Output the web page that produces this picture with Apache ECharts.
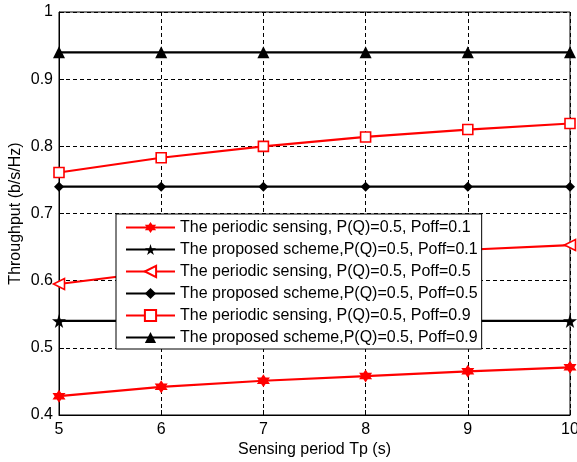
<!DOCTYPE html>
<html>
<head>
<meta charset="utf-8">
<script src="https://cdn.jsdelivr.net/npm/echarts@6/dist/echarts.min.js"></script>
<style>
  html, body { margin: 0; padding: 0; background: #fff; }
  #chart { width: 577px; height: 462px; }
</style>
</head>
<body>
<div id="chart"></div>
<script>
// 横轴：感知周期 Tp
const periods = [5, 6, 7, 8, 9, 10];

// 各曲线数值
const periodicPoff01 = [0.428, 0.442, 0.451, 0.458, 0.465, 0.471];
const proposedPoff01 = [0.54, 0.54, 0.54, 0.54, 0.54, 0.54];
const periodicPoff05 = [0.595, 0.614, 0.627, 0.637, 0.646, 0.653];
const proposedPoff05 = [0.74, 0.74, 0.74, 0.74, 0.74, 0.74];
const periodicPoff09 = [0.761, 0.783, 0.800, 0.814, 0.825, 0.834];
const proposedPoff09 = [0.94, 0.94, 0.94, 0.94, 0.94, 0.94];

const seriesNames = [
  'The periodic sensing, P(Q)=0.5, Poff=0.1',
  'The proposed scheme,P(Q)=0.5, Poff=0.1',
  'The periodic sensing, P(Q)=0.5, Poff=0.5',
  'The proposed scheme,P(Q)=0.5, Poff=0.5',
  'The periodic sensing, P(Q)=0.5, Poff=0.9',
  'The proposed scheme,P(Q)=0.5, Poff=0.9'
];

const FONT = 'Liberation Sans, Arial, sans-serif';

// 标记形状
const star5 = 'path://M50,0 L61,35 L98,35 L68,57 L79,91 L50,70 L21,91 L32,57 L2,35 L39,35 Z';
const star6 = 'path://M50,0 L64.4,25 L93.3,25 L78.9,50 L93.3,75 L64.4,75 L50,100 L35.6,75 L6.7,75 L21.1,50 L6.7,25 L35.6,25 Z';

const pair = arr => arr.map((v, i) => [periods[i], v]);

const mkSeries = (name, data, color, symbol, size, fill, rotate) => ({
  name,
  type: 'line',
  data: pair(data),
  symbol,
  symbolSize: size,
  symbolRotate: rotate || 0,
  showAllSymbol: true,
  lineStyle: { color, width: 2.2 },
  itemStyle: { color: fill, borderColor: color, borderWidth: fill === '#fff' ? 1.6 : 0 },
  emphasis: { disabled: true },
  z: 2
});

const chart = echarts.init(document.getElementById('chart'));

chart.setOption({
  animation: false,
  backgroundColor: '#fff',
  grid: {
    left: 59, right: 7, top: 12, bottom: 47,
    outerBoundsMode: 'none',
    containLabel: false,
    show: true, borderColor: '#000', borderWidth: 1, backgroundColor: 'transparent'
  },
  legend: {
    orient: 'vertical',
    left: 116,
    top: 214,
    padding: [5, 4, 3, 9],
    itemWidth: 49,
    itemHeight: 14,
    itemGap: 5,
    backgroundColor: '#fff',
    borderColor: '#000',
    borderWidth: 1,
    data: seriesNames,
    textStyle: { fontFamily: FONT, fontSize: 16, lineHeight: 17, color: '#000' },
    selectedMode: false
  },
  xAxis: {
    type: 'value',
    min: 5, max: 10, interval: 1,
    name: 'Sensing period Tp (s)',
    nameLocation: 'middle',
    nameGap: 27,
    nameMoveOverlap: false,
    nameTextStyle: { fontFamily: FONT, fontSize: 16, color: '#000' },
    axisLine: { lineStyle: { color: '#000', width: 1 } },
    axisTick: { inside: true, length: 5, lineStyle: { color: '#000' } },
    axisLabel: { fontFamily: FONT, fontSize: 16, color: '#000', margin: 7 },
    splitLine: { show: true, lineStyle: { color: '#000', type: [4, 3], width: 1 } }
  },
  yAxis: {
    type: 'value',
    min: 0.4, max: 1, interval: 0.1,
    name: 'Throughput (b/s/Hz)',
    nameLocation: 'middle',
    nameGap: 35,
    nameMoveOverlap: false,
    nameTextStyle: { fontFamily: FONT, fontSize: 16, color: '#000' },
    axisLine: { show: true, lineStyle: { color: '#000', width: 1 } },
    axisTick: { show: true, inside: true, length: 5, lineStyle: { color: '#000' } },
    axisLabel: {
      fontFamily: FONT, fontSize: 16, color: '#000', margin: 6,
      formatter: v => String(+v.toFixed(1))
    },
    splitLine: { show: true, lineStyle: { color: '#000', type: [4, 3], width: 1 } }
  },
  series: [
    mkSeries(seriesNames[0], periodicPoff01, '#ff0000', star6, 13, '#ff0000'),
    mkSeries(seriesNames[1], proposedPoff01, '#000', star5, 14, '#000'),
    mkSeries(seriesNames[2], periodicPoff05, '#ff0000', 'triangle', 11, '#fff', 90),
    mkSeries(seriesNames[3], proposedPoff05, '#000', 'diamond', 10, '#000'),
    mkSeries(seriesNames[4], periodicPoff09, '#ff0000', 'rect', 10, '#fff'),
    mkSeries(seriesNames[5], proposedPoff09, '#000', 'triangle', 12, '#000')
  ]
});
</script>
</body>
</html>
